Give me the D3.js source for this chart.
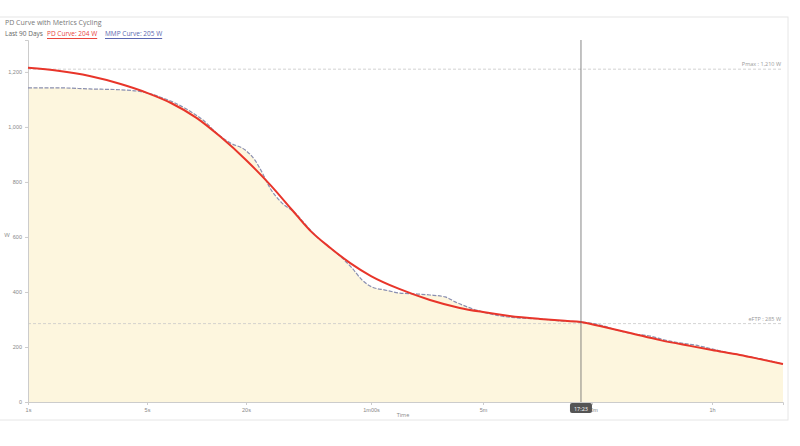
<!DOCTYPE html>
<html><head><meta charset="utf-8">
<script src="https://cdn.jsdelivr.net/npm/d3@7/dist/d3.min.js"></script>
<style>body{margin:0;background:#fff;font-family:"Open Sans",Roboto,sans-serif}</style>
</head><body><svg id="c" width="800" height="446"></svg>
<script>
const title = "PD Curve with Metrics Cycling";
const subtitle = "Last 90 Days";
const legendLabels = ["PD Curve: 204 W", "MMP Curve: 205 W"];
const xTickValues = [1, 5, 20, 60, 300, 1200, 3600];
const xTickLabels = ["1s", "5s", "20s", "1m00s", "5m", "20m", "1h"];
const yTickValues = [0, 200, 400, 600, 800, 1000, 1200];
const pmax = 1210, eftp = 285;
const markerTime = 1043, markerLabel = "17:23";
const pdTimes = [1,1.5,2.3,3.5,5,7,10,14,20,25,30,35,42,50,60,90,140,215,300,420,620,850,1043,1290,1700,2240,2940,3600,4730,5750,7200];
const pdWatts = [1215,1204,1185,1156,1124,1087,1033,964,880,785,698,625,560,505,458,411,371,342,327,313,302,295,291,276,251,225,204,189,171,156,138];
const mmpTimes = [1,1.5,2.3,3.5,5,6,7.4,9.1,11.3,13,16,19.8,21.6,23,24.7,27.4,30.8,33.6,37.7,42,46.5,50.8,55.4,60.9,73.4,91,113,140,174,201,249,300,372,480,620,798,1043,1290,1551,1779,2040,2341,2685,3080,3600,4291,5217,6343,7200];
const mmpWatts = [1142,1142,1138,1135,1124,1109,1087,1058,1018,982,942,916,880,836,778,724,687,647,596,560,524,487,444,418,407,396,393,389,382,364,342,327,313,305,302,295,291,280,258,247,240,225,215,207,193,178,164,149,138];

const svg = d3.select("#c");
const L = 28, R = 783, T = 40, B = 402;
// piecewise log scale anchored on tick times
const xs = d3.scaleLinear()
  .domain([1,5,20,60,300,1200,3600,7200].map(Math.log))
  .range([L,147,246,371,483,592,712,R]);
const x = t => xs(Math.log(t));
const y = d3.scaleLinear().domain([0,1316]).range([B,T]);

// card border
svg.append("rect").attr("x",-2).attr("y",17).attr("width",790).attr("height",403)
  .attr("fill","none").attr("stroke","#e6e6e6");

svg.append("text").attr("x",5).attr("y",25).attr("font-size",7).attr("fill","#777").text(title);
svg.append("text").attr("x",5).attr("y",36).attr("font-size",6.5).attr("fill","#666").text(subtitle);
const leg = [{x:47,c:"#e8453c",t:legendLabels[0]},{x:105,c:"#5b67b0",t:legendLabels[1]}];
leg.forEach(l=>{
  const tx = svg.append("text").attr("x",l.x).attr("y",36).attr("font-size",6.5).attr("fill",l.c).text(l.t);
  const w = tx.node().getComputedTextLength();
  svg.append("line").attr("x1",l.x).attr("x2",l.x+w).attr("y1",38.5).attr("y2",38.5).attr("stroke",l.c).attr("stroke-width",1);
});

const mmp = mmpTimes.map((t,i)=>[t,mmpWatts[i]]);
const pd = pdTimes.map((t,i)=>[t,pdWatts[i]]);

svg.append("path").datum(mmp)
  .attr("d", d3.area().x(d=>x(d[0])).y0(B).y1(d=>y(d[1])).curve(d3.curveMonotoneX))
  .attr("fill","#fdf6de");

// axes
const yAxis = svg.append("g").attr("transform",`translate(${L},0)`)
  .call(d3.axisLeft(y).tickValues(yTickValues).tickSize(3).tickFormat(d3.format(",")));
yAxis.selectAll("text").attr("font-size",5.5).attr("fill","#888");
yAxis.selectAll("line,path").attr("stroke","#ccc");
const xAxis = svg.append("g").attr("transform",`translate(0,${B})`)
  .call(d3.axisBottom(xs).tickValues(xTickValues.map(Math.log)).tickSize(3)
  .tickFormat((d,i)=>xTickLabels[i]));
xAxis.selectAll("text").attr("font-size",5.5).attr("fill","#888");
xAxis.selectAll("line,path").attr("stroke","#ccc");
svg.append("text").attr("x",7).attr("y",237).attr("font-size",6).attr("fill","#888").attr("text-anchor","middle").text("W");
svg.append("text").attr("x",403).attr("y",417).attr("font-size",5.5).attr("fill","#888").attr("text-anchor","middle").text("Time");

// reference lines
[[pmax,"Pmax : 1,210 W"],[eftp,"eFTP : 285 W"]].forEach(([v,lab])=>{
  svg.append("line").attr("x1",L).attr("x2",R).attr("y1",y(v)).attr("y2",y(v))
    .attr("stroke","#c8c8c8").attr("stroke-dasharray","3,2").attr("stroke-width",0.8);
  svg.append("text").attr("x",R-2).attr("y",y(v)-3).attr("font-size",5.5).attr("fill","#999")
    .attr("text-anchor","end").text(lab);
});

svg.append("path").datum(mmp)
  .attr("d", d3.line().x(d=>x(d[0])).y(d=>y(d[1])).curve(d3.curveMonotoneX))
  .attr("fill","none").attr("stroke","#8a8fb0").attr("stroke-width",1.2).attr("stroke-dasharray","4,1.5");
svg.append("path").datum(pd)
  .attr("d", d3.line().x(d=>x(d[0])).y(d=>y(d[1])).curve(d3.curveMonotoneX))
  .attr("fill","none").attr("stroke","#e8352a").attr("stroke-width",2);

// marker
const mx = x(markerTime);
svg.append("line").attr("x1",mx).attr("x2",mx).attr("y1",T).attr("y2",B)
  .attr("stroke","#666").attr("stroke-width",0.8);
svg.append("rect").attr("x",mx-11).attr("y",403).attr("width",22).attr("height",10).attr("rx",2).attr("fill","#555");
svg.append("text").attr("x",mx).attr("y",410.5).attr("font-size",5.5).attr("fill","#fff").attr("text-anchor","middle").text(markerLabel);
</script></body></html>
